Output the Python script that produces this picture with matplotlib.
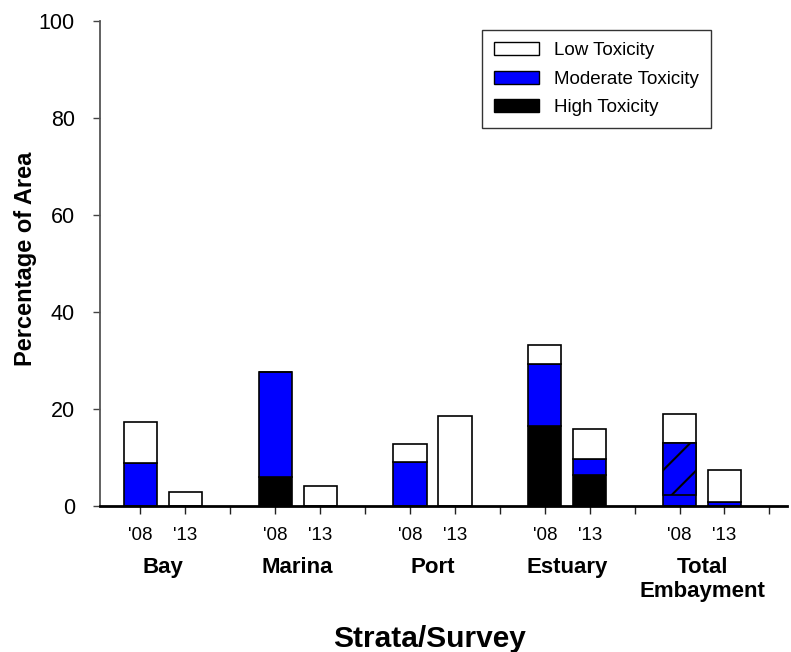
import numpy as np
import matplotlib
matplotlib.use('Agg')
import matplotlib.pyplot as plt
from matplotlib.patches import Patch

plt.rcParams['font.family'] = ['Liberation Sans', 'DejaVu Sans']
plt.rcParams['hatch.linewidth'] = 1.5

# data (percent of area per segment)
groups = ['Bay', 'Marina', 'Port', 'Estuary', 'Total\nEmbayment']
surveys = ["'08", "'13"]
high = [0.0, 0.0, 6.0, 0.0, 0.0, 0.0, 16.5, 6.3, 0.0, 0.0]
moderate = [8.8, 0.0, 21.7, 0.0, 9.1, 0.0, 12.7, 3.3, 12.9, 0.8]
low = [8.6, 2.8, 0.0, 4.1, 3.7, 18.6, 3.9, 6.3, 6.0, 6.6]
# hatched part of the moderate segment in Total Embayment '08
hatch_bar = 8
hatch_from = 2.2

# bar slots: two bars per group, then an empty separator slot
xpos = np.array([g * 3 + s for g in range(len(groups)) for s in range(2)])
width = 0.74

fig = plt.figure(figsize=(7.91, 6.52), dpi=100)
ax = fig.add_axes([0.1264, 0.2239, 0.869, 0.7439])

high = np.array(high)
moderate = np.array(moderate)
low = np.array(low)

ax.bar(xpos, high, width, color='black', edgecolor='black', linewidth=1.2)
ax.bar(xpos, moderate, width, bottom=high, color='#0000ff', edgecolor='black', linewidth=1.2)
ax.bar(xpos, low, width, bottom=high + moderate, color='white', edgecolor='black', linewidth=1.2)

# hatched overlay
hb = hatch_bar
ax.bar(xpos[hb], high[hb] + moderate[hb] - hatch_from, width, bottom=hatch_from,
       color='#0000ff', edgecolor='black', hatch='/', linewidth=1.2)

ax.set_xlim(-0.9, 14.4)
ax.set_ylim(0, 100)
ax.set_yticks(np.arange(0, 101, 20))
ax.tick_params(axis='y', labelsize=15.5, length=5, width=1, color='#444444', direction='out', pad=13)

ax.set_xticks(np.arange(0, 15))
xlabels = []
for i in range(15):
    xlabels.append(surveys[i % 3] if i % 3 < 2 else '')
ax.set_xticklabels(xlabels, fontsize=13.5)
ax.tick_params(axis='x', length=6, width=1, color='#222222', direction='out', pad=9)

for g, name in enumerate(groups):
    ax.text(g * 3 + 0.5, -0.105, name, transform=ax.get_xaxis_transform(),
            ha='center', va='top', fontsize=16, fontweight='bold', linespacing=1.17)

ax.set_ylabel('Percentage of Area', fontsize=17, fontweight='bold')
ax.yaxis.set_label_coords(-0.092, 0.51)
fig.text(0.543, 0.02, 'Strata/Survey', ha='center', va='center',
         fontsize=21.5, fontweight='bold')

ax.spines['top'].set_visible(False)
ax.spines['right'].set_visible(False)
ax.spines['left'].set_color('#555555')
ax.spines['left'].set_linewidth(1.3)
ax.spines['bottom'].set_linewidth(2)

handles = [Patch(facecolor='white', edgecolor='black', label='Low Toxicity'),
           Patch(facecolor='#0000ff', edgecolor='black', label='Moderate Toxicity'),
           Patch(facecolor='black', edgecolor='black', label='High Toxicity')]
leg = ax.legend(handles=handles, loc='upper right', bbox_to_anchor=(0.889, 0.981),
                borderaxespad=0, fontsize=13.5, frameon=True, fancybox=False,
                edgecolor='black', handlelength=2.4, handleheight=0.7,
                handletextpad=0.8, borderpad=0.64, labelspacing=0.6)
leg.get_frame().set_linewidth(1.0)

fig.savefig('out.png', dpi=100)
